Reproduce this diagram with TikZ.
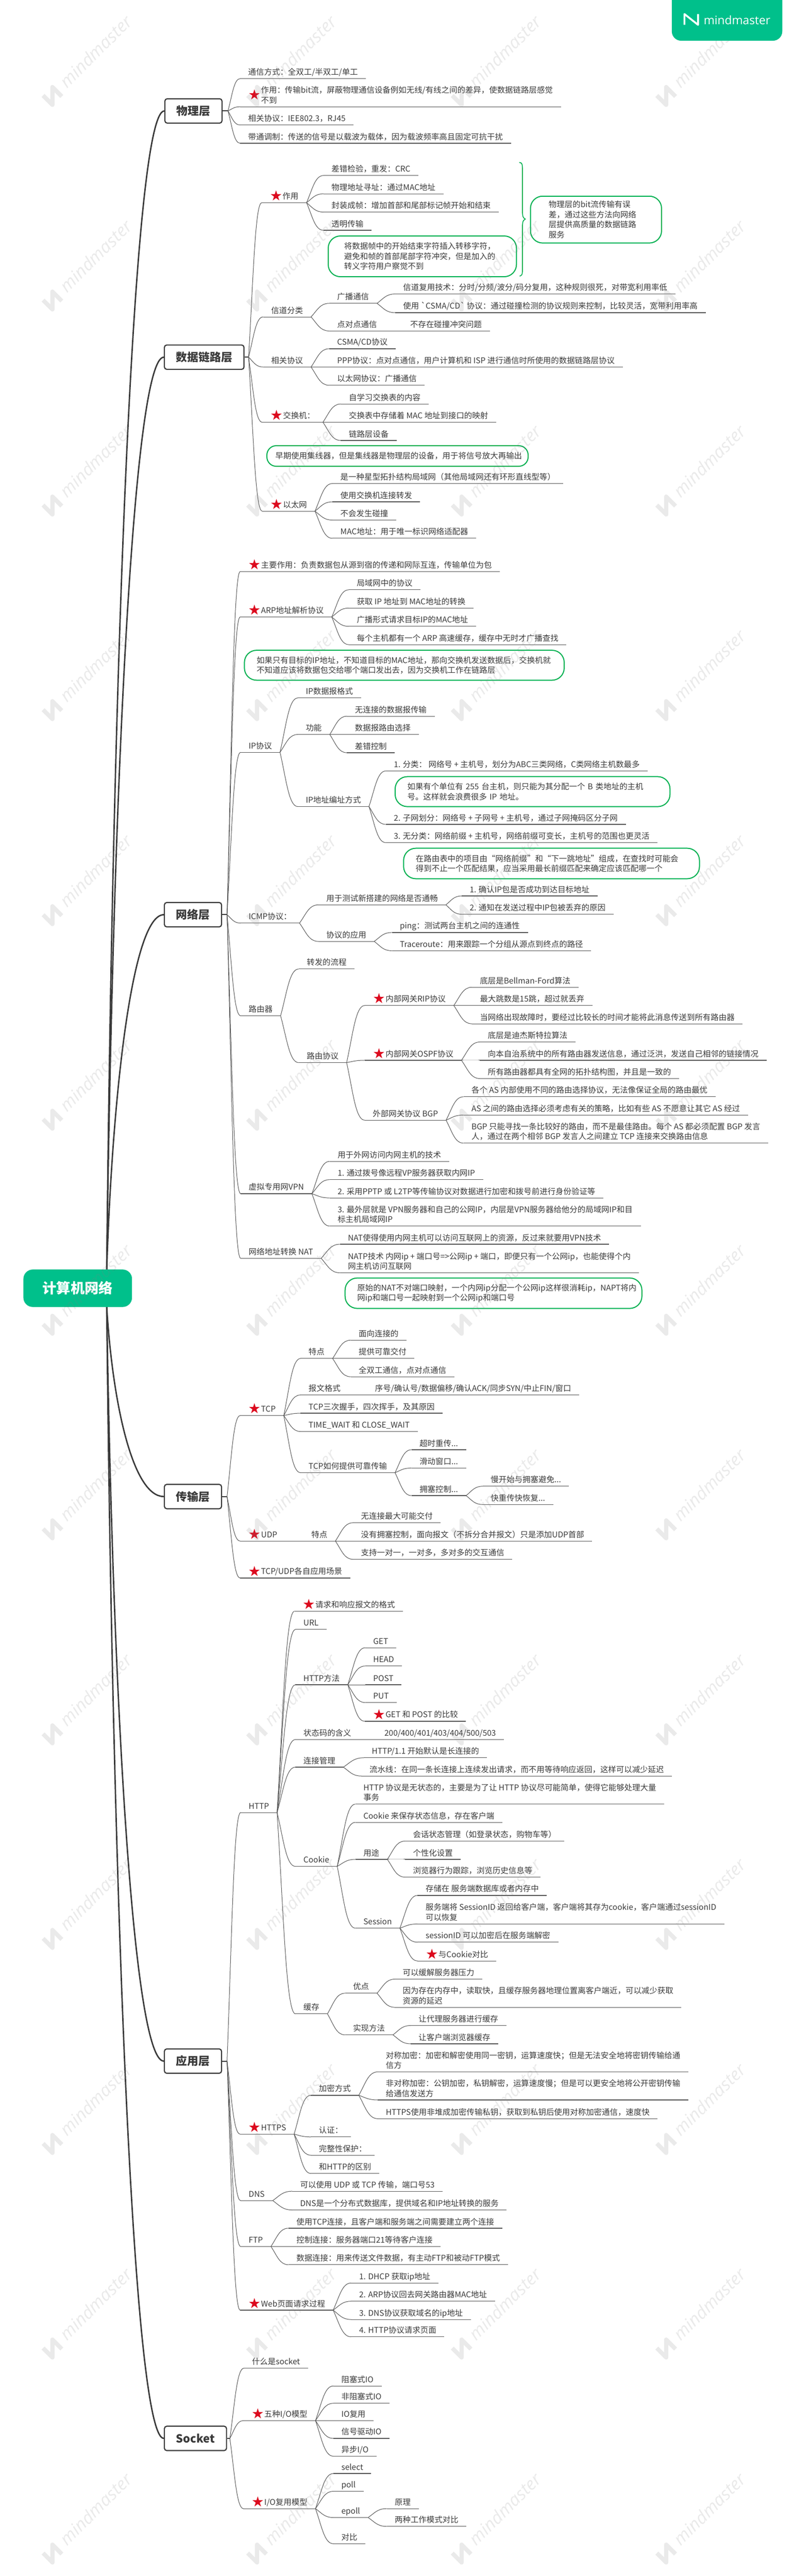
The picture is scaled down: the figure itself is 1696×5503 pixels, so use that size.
\documentclass[tikz,border=0pt]{standalone}
\usepackage{fontspec}
\setmainfont{Noto Sans CJK SC}
\newfontfamily\starfont{DejaVu Sans}
\newfontfamily\wmfont{Open Sans}
\usepackage{tikz}
\usetikzlibrary{calc}
\definecolor{brandgreen}{HTML}{00C08B}
\definecolor{notegreen}{HTML}{00B050}
\definecolor{linegray}{HTML}{555555}
\definecolor{inkgray}{HTML}{3A3A3A}
\definecolor{starred}{HTML}{DC0A1E}
\newcommand{\markstar}{\raisebox{-3.5pt}{\fontsize{30}{30}\starfont\color{starred}★}\hspace{.5pt}}
\pgfdeclarelayer{nodelayer}
\pgfdeclarelayer{edgelayer}
\pgfsetlayers{edgelayer,nodelayer,main}
\tikzset{topic/.style={anchor=south west, xshift=-17pt, inner xsep=17pt, inner ysep=1pt, align=left, text=inkgray,
font=\fontsize{17}{21.5}\selectfont, execute at begin node=\strut, execute at end node=\strut,
append after command={(\tikzlastnode.south west) edge [style=rule] (\tikzlastnode.south east)}}}
\tikzset{rule/.style={draw=linegray, line width=1.3pt}}
\tikzset{link/.style={draw=linegray, line width=1.1pt, to path={let \p1=(\tikztostart), \p2=(\tikztotarget) in
.. controls ({\x1+.35*(\x2-\x1)},{\y1+.5*(\y2-\y1)}) and ({\x1+.5*(\x2-\x1)},\y2) .. (\tikztotarget) \tikztonodes}}}
\tikzset{trunk/.style={draw=inkgray, line width=3pt, to path={let \p1=(\tikztostart), \p2=(\tikztotarget) in
.. controls ({\x1+.1*(\x2-\x1)},{\y1+.5*(\y2-\y1)}) and ({\x1+.45*(\x2-\x1)},\y2) .. (\tikztotarget) \tikztonodes}}}
\tikzset{stub/.style={draw=inkgray, line width=2.2pt}}
\tikzset{layerbox/.style={draw=inkgray, line width=2.4pt, fill=white, rounded corners=5pt, anchor=west, inner xsep=25pt,
minimum height=52pt, text=inkgray, font=\fontsize{24}{28}\selectfont\bfseries}}
\tikzset{rootbox/.style={fill=brandgreen, rounded corners=20pt, minimum width=232pt, minimum height=80pt, text=white,
font=\fontsize{30}{34}\selectfont\bfseries}}
\tikzset{note/.style={draw=notegreen, line width=2.2pt, rounded corners=26pt, anchor=north west, align=left, inner ysep=0pt,
inner xsep=26pt, text=inkgray, font=\fontsize{17}{21.5}\selectfont}}
\tikzset{bracket/.style={draw=notegreen, line width=1.8pt}}
\tikzset{wmark/.style={text=gray, opacity=.17, rotate=45, anchor=west, inner sep=0pt, font=\wmfont\itshape\fontsize{37}{37}\selectfont}}
\tikzset{wlogo/.style={draw=gray, opacity=.17, line width=9pt, line join=round}}
\begin{document}
\begin{tikzpicture}[x=1pt, y=-1pt]
	\useasboundingbox (0,0) rectangle (1696,5503);
	\begin{pgfonlayer}{nodelayer}
		\node [style=rootbox] (root) at (166,2752) {计算机网络};
		\coordinate (rootup) at (228,2712);
		\coordinate (rootdown) at (228,2792);
		% physical
		\node [style=layerbox] (phys) at (351,237) {物理层};
		\coordinate (physj) at (487,237);
		\node [style=topic] (phys1) at (530,168) {通信方式：全双工/半双工/单工};
		\node [style=topic] (phys2) at (530,228) {\markstar\begin{tabular}[c]{@{}l@{}}作用：传输bit流，屏蔽物理通信设备例如无线/有线之间的差异，使数据链路层感觉\\不到\end{tabular}};
		\node [style=topic] (phys3) at (530,267) {相关协议：IEE802.3，RJ45};
		\node [style=topic] (phys4) at (530,306) {带通调制：传送的信号是以载波为载体，因为载波频率高且固定可抗干扰};
		% data link
		\node [style=layerbox] (data) at (350,763) {数据链路层};
		\coordinate (dataj) at (531,763);
		\node [style=topic] (data1) at (576,433) {\markstar 作用};
		\node [style=topic] (data11) at (708,375) {差错检验，重发：CRC};
		\node [style=topic] (data12) at (708,414) {物理地址寻址：通过MAC地址};
		\node [style=topic] (data13) at (708,453) {封装成帧：增加首部和尾部标记帧开始和结束};
		\node [style=topic] (data14) at (708,492) {透明传输};
		\node [style=note, inner xsep=34pt, text width=334pt, minimum height=87pt] (note1) at (700,503) {将数据帧中的开始结束字符插入转移字符，\\避免和帧的首部尾部字符冲突，但是加入的\\转义字符用户察觉不到};
		\node [style=note, inner xsep=39pt, text width=202pt, minimum height=100pt] (note2) at (1132,418) {物理层的bit流传输有误\\差，通过这些方法向网络\\层提供高质量的数据链路\\服务};
		\coordinate (bracktop) at (1109,347);
		\coordinate (brackmid) at (1122,468);
		\coordinate (brackbot) at (1110,590);
		\node [style=topic] (data2) at (579,677) {信道分类};
		\node [style=topic] (data21) at (720,648) {广播通信};
		\node [style=topic] (data211) at (861,628) {信道复用技术：分时/分频/波分/码分复用，这种规则很死，对带宽利用率低};
		\node [style=topic] (data212) at (861,668) {使用 \textasciigrave CSMA/CD\textasciigrave\ 协议：通过碰撞检测的协议规则来控制，比较灵活，宽带利用率高};
		\node [style=topic] (data22) at (720,707) {点对点通信};
		\node [style=topic] (data221) at (876,707) {不存在碰撞冲突问题};
		\node [style=topic] (data3) at (579,784) {相关协议};
		\node [style=topic] (data31) at (720,745) {CSMA/CD协议};
		\node [style=topic] (data32) at (720,784) {PPP协议：点对点通信，用户计算机和 ISP 进行通信时所使用的数据链路层协议};
		\node [style=topic] (data33) at (720,823) {以太网协议：广播通信};
		\node [style=topic] (data4) at (577,902) {\markstar 交换机：};
		\node [style=topic] (data41) at (745,863) {自学习交换表的内容};
		\node [style=topic] (data42) at (745,902) {交换表中存储着 MAC 地址到接口的映射};
		\node [style=topic] (data43) at (745,941) {链路层设备};
		\node [style=note, rounded corners=20pt, inner xsep=18pt, text width=522pt, minimum height=44pt] (note3) at (569,951) {早期使用集线器，但是集线器是物理层的设备，用于将信号放大再输出};
		\node [style=topic] (data5) at (577,1092) {\markstar 以太网};
		\node [style=topic] (data51) at (727,1033) {是一种星型拓扑结构局域网（其他局域网还有环形直线型等）};
		\node [style=topic] (data52) at (727,1072) {使用交换机连接转发};
		\node [style=topic] (data53) at (727,1111) {不会发生碰撞};
		\node [style=topic] (data54) at (727,1150) {MAC地址：用于唯一标识网络适配器};
		% network
		\node [style=layerbox] (net) at (350,1954) {网络层};
		\coordinate (netj) at (485,1954);
		\node [style=topic] (net1) at (530,1221) {\markstar 主要作用：负责数据包从源到宿的传递和网际互连，传输单位为包};
		\node [style=topic] (net2) at (530,1318) {\markstar ARP地址解析协议};
		\node [style=topic] (net21) at (762,1260) {局域网中的协议};
		\node [style=topic] (net22) at (762,1299) {获取 IP 地址到 MAC地址的转换};
		\node [style=topic] (net23) at (762,1338) {广播形式请求目标IP的MAC地址};
		\node [style=topic] (net24) at (762,1377) {每个主机都有一个 ARP 高速缓存，缓存中无时才广播查找};
		\node [style=note, text width=631pt, minimum height=64pt] (note4) at (521,1388) {如果只有目标的IP地址，不知道目标的MAC地址，那向交换机发送数据后，交换机就\\不知道应该将数据包交给哪个端口发出去，因为交换机工作在链路层};
		\node [style=topic] (net3) at (531,1607) {IP协议};
		\node [style=topic] (net31) at (653,1491) {IP数据报格式};
		\node [style=topic] (net32) at (653,1569) {功能};
		\node [style=topic] (net321) at (758,1530) {无连接的数据报传输};
		\node [style=topic] (net322) at (758,1569) {数据报路由选择};
		\node [style=topic] (net323) at (758,1608) {差错控制};
		\node [style=topic] (net33) at (653,1723) {IP地址编址方式};
		\node [style=topic] (net331) at (841,1647) {1. 分类：  网络号 + 主机号，划分为ABC三类网络，C类网络主机数最多};
		\node [style=note, text width=535pt, minimum height=64pt] (note5) at (843,1658) {如果有个单位有 255 台主机，则只能为其分配一个 B 类地址的主机\\号。这样就会浪费很多 IP 地址。};
		\node [style=topic] (net332) at (841,1761) {2. 子网划分：网络号 + 子网号 + 主机号，通过子网掩码区分子网};
		\node [style=topic] (net333) at (841,1800) {3. 无分类：网络前缀 + 主机号，网络前缀可变长，主机号的范围也更灵活};
		\node [style=note, text width=580pt, minimum height=65pt] (note6) at (861,1811) {在路由表中的项目由“网络前缀”和“下一跳地址”组成，在查找时可能会\\得到不止一个匹配结果，应当采用最长前缀匹配来确定应该匹配哪一个};
		\node [style=topic] (net4) at (531,1972) {ICMP协议：};
		\node [style=topic] (net41) at (697,1933) {用于测试新搭建的网络是否通畅};
		\node [style=topic] (net411) at (1003,1914) {1. 确认IP包是否成功到达目标地址};
		\node [style=topic] (net412) at (1003,1953) {2. 通知在发送过程中IP包被丢弃的原因};
		\node [style=topic] (net42) at (697,2011) {协议的应用};
		\node [style=topic] (net421) at (854,1992) {ping：测试两台主机之间的连通性};
		\node [style=topic] (net422) at (854,2031) {Traceroute：用来跟踪一个分组从源点到终点的路径};
		\node [style=topic] (net5) at (531,2170) {路由器};
		\node [style=topic] (net51) at (655,2070) {转发的流程};
		\node [style=topic] (net52) at (655,2270) {路由协议};
		\node [style=topic] (net521) at (796,2148) {\markstar 内部网关RIP协议};
		\node [style=topic] (rip1) at (1025,2109) {底层是Bellman-Ford算法};
		\node [style=topic] (rip2) at (1025,2148) {最大跳数是15跳，超过就丢弃};
		\node [style=topic] (rip3) at (1025,2187) {当网络出现故障时，要经过比较长的时间才能将此消息传送到所有路由器};
		\node [style=topic] (net522) at (796,2265) {\markstar 内部网关OSPF协议};
		\node [style=topic] (ospf1) at (1042,2226) {底层是迪杰斯特拉算法};
		\node [style=topic] (ospf2) at (1042,2265) {向本自治系统中的所有路由器发送信息，通过泛洪，发送自己相邻的链接情况};
		\node [style=topic] (ospf3) at (1042,2304) {所有路由器都具有全网的拓扑结构图，并且是一致的};
		\node [style=topic] (net523) at (796,2393) {外部网关协议 BGP};
		\node [style=topic] (bgp1) at (1007,2343) {各个 AS 内部使用不同的路由选择协议，无法像保证全局的路由最优};
		\node [style=topic] (bgp2) at (1007,2382) {AS 之间的路由选择必须考虑有关的策略，比如有些 AS 不愿意让其它 AS 经过};
		\node [style=topic] (bgp3) at (1007,2442) {BGP 只能寻找一条比较好的路由，而不是最佳路由。每个 AS 都必须配置 BGP 发言\\人，通过在两个相邻 BGP 发言人之间建立 TCP 连接来交换路由信息};
		\node [style=topic] (net6) at (531,2550) {虚拟专用网VPN};
		\node [style=topic] (net61) at (721,2481) {用于外网访问内网主机的技术};
		\node [style=topic] (net62) at (721,2520) {1. 通过拨号像远程VP服务器获取内网IP};
		\node [style=topic] (net63) at (721,2559) {2. 采用PPTP 或 L2TP等传输协议对数据进行加密和拨号前进行身份验证等};
		\node [style=topic] (net64) at (721,2619) {3. 最外层就是 VPN服务器和自己的公网IP，内层是VPN服务器给他分的局域网IP和目\\标主机局域网IP};
		\node [style=topic] (net7) at (531,2688) {网络地址转换 NAT};
		\node [style=topic] (net71) at (743,2658) {NAT使得使用内网主机可以访问互联网上的资源，反过来就要用VPN技术};
		\node [style=topic] (net72) at (743,2719) {NATP技术 内网ip + 端口号=>公网ip + 端口，即便只有一个公网ip，也能使得个内\\网主机访问互联网};
		\node [style=note, text width=582pt, minimum height=65pt] (note7) at (736,2729) {原始的NAT不对端口映射，一个内网ip分配一个公网ip这样很消耗ip，NAPT将内\\网ip和端口号一起映射到一个公网ip和端口号};
		% transport
		\node [style=layerbox] (trans) at (350,3197) {传输层};
		\coordinate (transj) at (485,3197);
		\node [style=topic] (tcp) at (530,3024) {\markstar TCP};
		\node [style=topic] (tcp1) at (659,2902) {特点};
		\node [style=topic] (tcp11) at (766,2863) {面向连接的};
		\node [style=topic] (tcp12) at (766,2902) {提供可靠交付};
		\node [style=topic] (tcp13) at (766,2941) {全双工通信，点对点通信};
		\node [style=topic] (tcp2) at (659,2980) {报文格式};
		\node [style=topic] (tcp21) at (801,2980) {序号/确认号/数据偏移/确认ACK/同步SYN/中止FIN/窗口};
		\node [style=topic] (tcp3) at (659,3019) {TCP三次握手，四次挥手，及其原因};
		\node [style=topic] (tcp4) at (659,3058) {TIME\_WAIT 和 CLOSE\_WAIT};
		\node [style=topic] (tcp5) at (659,3146) {TCP如何提供可靠传输};
		\node [style=topic] (tcp51) at (896,3097) {超时重传...};
		\node [style=topic] (tcp52) at (896,3136) {滑动窗口...};
		\node [style=topic] (tcp53) at (896,3195) {拥塞控制...};
		\node [style=topic] (tcp531) at (1048,3175) {慢开始与拥塞避免...};
		\node [style=topic] (tcp532) at (1048,3214) {快重传快恢复...};
		\node [style=topic] (udp) at (530,3292) {\markstar UDP};
		\node [style=topic] (udp1) at (665,3292) {特点};
		\node [style=topic] (udp11) at (771,3253) {无连接最大可能交付};
		\node [style=topic] (udp12) at (771,3292) {没有拥塞控制，面向报文（不拆分合并报文）只是添加UDP首部};
		\node [style=topic] (udp13) at (771,3331) {支持一对一，一对多，多对多的交互通信};
		\node [style=topic] (scene) at (530,3371) {\markstar TCP/UDP各自应用场景};
		% application
		\node [style=layerbox] (app) at (350,4403) {应用层};
		\coordinate (appj) at (485,4403);
		\node [style=topic] (http) at (531,3872) {HTTP};
		\node [style=topic] (http1) at (646,3442) {\markstar 请求和响应报文的格式};
		\node [style=topic] (http2) at (648,3481) {URL};
		\node [style=topic] (http3) at (648,3599) {HTTP方法};
		\node [style=topic] (http31) at (797,3520) {GET};
		\node [style=topic] (http32) at (797,3559) {HEAD};
		\node [style=topic] (http33) at (797,3599) {POST};
		\node [style=topic] (http34) at (797,3637) {PUT};
		\node [style=topic] (http35) at (796,3677) {\markstar GET 和 POST 的比较};
		\node [style=topic] (http4) at (648,3716) {状态码的含义};
		\node [style=topic] (http41) at (821,3716) {200/400/401/403/404/500/503};
		\node [style=topic] (http5) at (648,3775) {连接管理};
		\node [style=topic] (http51) at (794,3755) {HTTP/1.1 开始默认是长连接的};
		\node [style=topic] (http52) at (789,3794) {流水线：在同一条长连接上连续发出请求，而不用等待响应返回，这样可以减少延迟};
		\node [style=topic] (cookie) at (648,3987) {Cookie};
		\node [style=topic] (cookie1) at (776,3854) {HTTP 协议是无状态的，主要是为了让 HTTP 协议尽可能简单，使得它能够处理大量\\事务};
		\node [style=topic] (cookie2) at (776,3893) {Cookie 来保存状态信息，存在客户端};
		\node [style=topic] (cookie3) at (776,3972) {用途};
		\node [style=topic] (cookie31) at (882,3933) {会话状态管理（如登录状态，购物车等）};
		\node [style=topic] (cookie32) at (882,3972) {个性化设置};
		\node [style=topic] (cookie33) at (882,4010) {浏览器行为跟踪，浏览历史信息等};
		\node [style=topic] (sess) at (776,4119) {Session};
		\node [style=topic] (sess1) at (909,4049) {存储在 服务端数据库或者内存中};
		\node [style=topic] (sess2) at (909,4110) {服务端将 SessionID 返回给客户端，客户端将其存为cookie，客户端通过sessionID\\可以恢复};
		\node [style=topic] (sess3) at (909,4149) {sessionID 可以加密后在服务端解密};
		\node [style=topic] (sess4) at (909,4189) {\markstar 与Cookie对比};
		\node [style=topic] (cache) at (648,4302) {缓存};
		\node [style=topic] (cache1) at (754,4258) {优点};
		\node [style=topic] (cache11) at (860,4228) {可以缓解服务器压力};
		\node [style=topic] (cache12) at (860,4288) {因为存在内存中，读取快，且缓存服务器地理位置离客户端近，可以减少获取\\资源的延迟};
		\node [style=topic] (cache2) at (754,4347) {实现方法};
		\node [style=topic] (cache21) at (894,4327) {让代理服务器进行缓存};
		\node [style=topic] (cache22) at (894,4366) {让客户端浏览器缓存};
		\node [style=topic] (https) at (530,4559) {\markstar HTTPS};
		\node [style=topic] (https1) at (681,4476) {加密方式};
		\node [style=topic] (https11) at (824,4426) {对称加密：加密和解密使用同一密钥，运算速度快；但是无法安全地将密钥传输给通\\信方};
		\node [style=topic] (https12) at (824,4486) {非对称加密：公钥加密，私钥解密，运算速度慢；但是可以更安全地将公开密钥传输\\给通信发送方};
		\node [style=topic] (https13) at (824,4526) {HTTPS使用非堆成加密传输私钥，获取到私钥后使用对称加密通信，速度快};
		\node [style=topic] (https2) at (681,4565) {认证：};
		\node [style=topic] (https3) at (681,4604) {完整性保护：};
		\node [style=topic] (https4) at (681,4643) {和HTTP的区别};
		\node [style=topic] (dns) at (531,4701) {DNS};
		\node [style=topic] (dns1) at (641,4681) {可以使用 UDP 或 TCP 传输，端口号53};
		\node [style=topic] (dns2) at (641,4721) {DNS是一个分布式数据库，提供域名和IP地址转换的服务};
		\node [style=topic] (ftp) at (531,4799) {FTP};
		\node [style=topic] (ftp1) at (633,4760) {使用TCP连接，且客户端和服务端之间需要建立两个连接};
		\node [style=topic] (ftp2) at (633,4799) {控制连接：服务器端口21等待客户连接};
		\node [style=topic] (ftp3) at (633,4838) {数据连接：用来传送文件数据，有主动FTP和被动FTP模式};
		\node [style=topic] (web) at (530,4935) {\markstar Web页面请求过程};
		\node [style=topic] (web1) at (767,4877) {1. DHCP 获取ip地址};
		\node [style=topic] (web2) at (767,4916) {2. ARP协议回去网关路由器MAC地址};
		\node [style=topic] (web3) at (767,4955) {3. DNS协议获取域名的ip地址};
		\node [style=topic] (web4) at (767,4992) {4. HTTP协议请求页面};
		% socket
		\node [style=layerbox] (sock) at (350,5209) {Socket};
		\coordinate (sockj) at (491,5209);
		\node [style=topic] (sock1) at (538,5059) {什么是socket};
		\node [style=topic] (sock2) at (537,5171) {\markstar 五种I/O模型};
		\node [style=topic] (sock21) at (729,5097) {阻塞式IO};
		\node [style=topic] (sock22) at (729,5134) {非阻塞式IO};
		\node [style=topic] (sock23) at (729,5171) {IO复用};
		\node [style=topic] (sock24) at (729,5209) {信号驱动IO};
		\node [style=topic] (sock25) at (729,5247) {异步I/O};
		\node [style=topic] (sock3) at (537,5359) {\markstar I/O复用模型};
		\node [style=topic] (sock31) at (729,5284) {select};
		\node [style=topic] (sock32) at (729,5322) {poll};
		\node [style=topic] (sock33) at (729,5378) {epoll};
		\node [style=topic] (sock331) at (843,5359) {原理};
		\node [style=topic] (sock332) at (843,5397) {两种工作模式对比};
		\node [style=topic] (sock34) at (729,5434) {对比};
	\end{pgfonlayer}
	\begin{pgfonlayer}{edgelayer}
		\draw [style=trunk] (rootup) to (phys.west);
		\draw [style=trunk] (rootup) to (data.west);
		\draw [style=trunk] (rootup) to (net.west);
		\draw [style=trunk] (rootdown) to (trans.west);
		\draw [style=trunk] (rootdown) to (app.west);
		\draw [style=trunk] (rootdown) to (sock.west);
		\draw [style=stub] (phys.east) to (physj);
		\draw [style=stub] (data.east) to (dataj);
		\draw [style=stub] (net.east) to (netj);
		\draw [style=stub] (trans.east) to (transj);
		\draw [style=stub] (app.east) to (appj);
		\draw [style=stub] (sock.east) to (sockj);
		\draw [style=link] (physj) to (phys1.south west);
		\draw [style=link] (physj) to (phys2.south west);
		\draw [style=link] (physj) to (phys3.south west);
		\draw [style=link] (physj) to (phys4.south west);
		\draw [style=link] (dataj) to (data1.south west);
		\draw [style=link] (dataj) to (data2.south west);
		\draw [style=link] (dataj) to (data3.south west);
		\draw [style=link] (dataj) to (data4.south west);
		\draw [style=link] (dataj) to (data5.south west);
		\draw [style=link] (data1.south east) to (data11.south west);
		\draw [style=link] (data1.south east) to (data12.south west);
		\draw [style=link] (data1.south east) to (data13.south west);
		\draw [style=link] (data1.south east) to (data14.south west);
		\draw [style=bracket] (bracktop) .. controls (1116,347) and (1116,352) .. (1116,365) -- (1116,450) .. controls (1116,460) and (1116,465) .. (brackmid) .. controls (1116,471) and (1116,476) .. (1116,486) -- (1116,575) .. controls (1116,585) and (1116,588) .. (brackbot);
		\draw [style=link] (data2.south east) to (data21.south west);
		\draw [style=link] (data2.south east) to (data22.south west);
		\draw [style=link] (data21.south east) to (data211.south west);
		\draw [style=link] (data21.south east) to (data212.south west);
		\draw [style=link] (data22.south east) to (data221.south west);
		\draw [style=link] (data3.south east) to (data31.south west);
		\draw [style=link] (data3.south east) to (data32.south west);
		\draw [style=link] (data3.south east) to (data33.south west);
		\draw [style=link] (data4.south east) to (data41.south west);
		\draw [style=link] (data4.south east) to (data42.south west);
		\draw [style=link] (data4.south east) to (data43.south west);
		\draw [style=link] (data5.south east) to (data51.south west);
		\draw [style=link] (data5.south east) to (data52.south west);
		\draw [style=link] (data5.south east) to (data53.south west);
		\draw [style=link] (data5.south east) to (data54.south west);
		\draw [style=link] (netj) to (net1.south west);
		\draw [style=link] (netj) to (net2.south west);
		\draw [style=link] (netj) to (net3.south west);
		\draw [style=link] (netj) to (net4.south west);
		\draw [style=link] (netj) to (net5.south west);
		\draw [style=link] (netj) to (net6.south west);
		\draw [style=link] (netj) to (net7.south west);
		\draw [style=link] (net2.south east) to (net21.south west);
		\draw [style=link] (net2.south east) to (net22.south west);
		\draw [style=link] (net2.south east) to (net23.south west);
		\draw [style=link] (net2.south east) to (net24.south west);
		\draw [style=link] (net3.south east) to (net31.south west);
		\draw [style=link] (net3.south east) to (net32.south west);
		\draw [style=link] (net3.south east) to (net33.south west);
		\draw [style=link] (net32.south east) to (net321.south west);
		\draw [style=link] (net32.south east) to (net322.south west);
		\draw [style=link] (net32.south east) to (net323.south west);
		\draw [style=link] (net33.south east) to (net331.south west);
		\draw [style=link] (net33.south east) to (net332.south west);
		\draw [style=link] (net33.south east) to (net333.south west);
		\draw [style=link] (net4.south east) to (net41.south west);
		\draw [style=link] (net4.south east) to (net42.south west);
		\draw [style=link] (net41.south east) to (net411.south west);
		\draw [style=link] (net41.south east) to (net412.south west);
		\draw [style=link] (net42.south east) to (net421.south west);
		\draw [style=link] (net42.south east) to (net422.south west);
		\draw [style=link] (net5.south east) to (net51.south west);
		\draw [style=link] (net5.south east) to (net52.south west);
		\draw [style=link] (net52.south east) to (net521.south west);
		\draw [style=link] (net52.south east) to (net522.south west);
		\draw [style=link] (net52.south east) to (net523.south west);
		\draw [style=link] (net521.south east) to (rip1.south west);
		\draw [style=link] (net521.south east) to (rip2.south west);
		\draw [style=link] (net521.south east) to (rip3.south west);
		\draw [style=link] (net522.south east) to (ospf1.south west);
		\draw [style=link] (net522.south east) to (ospf2.south west);
		\draw [style=link] (net522.south east) to (ospf3.south west);
		\draw [style=link] (net523.south east) to (bgp1.south west);
		\draw [style=link] (net523.south east) to (bgp2.south west);
		\draw [style=link] (net523.south east) to (bgp3.south west);
		\draw [style=link] (net6.south east) to (net61.south west);
		\draw [style=link] (net6.south east) to (net62.south west);
		\draw [style=link] (net6.south east) to (net63.south west);
		\draw [style=link] (net6.south east) to (net64.south west);
		\draw [style=link] (net7.south east) to (net71.south west);
		\draw [style=link] (net7.south east) to (net72.south west);
		\draw [style=link] (transj) to (tcp.south west);
		\draw [style=link] (transj) to (udp.south west);
		\draw [style=link] (transj) to (scene.south west);
		\draw [style=link] (tcp.south east) to (tcp1.south west);
		\draw [style=link] (tcp.south east) to (tcp2.south west);
		\draw [style=link] (tcp.south east) to (tcp3.south west);
		\draw [style=link] (tcp.south east) to (tcp4.south west);
		\draw [style=link] (tcp.south east) to (tcp5.south west);
		\draw [style=link] (tcp1.south east) to (tcp11.south west);
		\draw [style=link] (tcp1.south east) to (tcp12.south west);
		\draw [style=link] (tcp1.south east) to (tcp13.south west);
		\draw [style=link] (tcp2.south east) to (tcp21.south west);
		\draw [style=link] (tcp5.south east) to (tcp51.south west);
		\draw [style=link] (tcp5.south east) to (tcp52.south west);
		\draw [style=link] (tcp5.south east) to (tcp53.south west);
		\draw [style=link] (tcp53.south east) to (tcp531.south west);
		\draw [style=link] (tcp53.south east) to (tcp532.south west);
		\draw [style=link] (udp.south east) to (udp1.south west);
		\draw [style=link] (udp1.south east) to (udp11.south west);
		\draw [style=link] (udp1.south east) to (udp12.south west);
		\draw [style=link] (udp1.south east) to (udp13.south west);
		\draw [style=link] (appj) to (http.south west);
		\draw [style=link] (appj) to (https.south west);
		\draw [style=link] (appj) to (dns.south west);
		\draw [style=link] (appj) to (ftp.south west);
		\draw [style=link] (appj) to (web.south west);
		\draw [style=link] (http.south east) to (http1.south west);
		\draw [style=link] (http.south east) to (http2.south west);
		\draw [style=link] (http.south east) to (http3.south west);
		\draw [style=link] (http.south east) to (http4.south west);
		\draw [style=link] (http.south east) to (http5.south west);
		\draw [style=link] (http.south east) to (cookie.south west);
		\draw [style=link] (http.south east) to (cache.south west);
		\draw [style=link] (http3.south east) to (http31.south west);
		\draw [style=link] (http3.south east) to (http32.south west);
		\draw [style=link] (http3.south east) to (http33.south west);
		\draw [style=link] (http3.south east) to (http34.south west);
		\draw [style=link] (http3.south east) to (http35.south west);
		\draw [style=link] (http4.south east) to (http41.south west);
		\draw [style=link] (http5.south east) to (http51.south west);
		\draw [style=link] (http5.south east) to (http52.south west);
		\draw [style=link] (cookie.south east) to (cookie1.south west);
		\draw [style=link] (cookie.south east) to (cookie2.south west);
		\draw [style=link] (cookie.south east) to (cookie3.south west);
		\draw [style=link] (cookie.south east) to (sess.south west);
		\draw [style=link] (cookie3.south east) to (cookie31.south west);
		\draw [style=link] (cookie3.south east) to (cookie32.south west);
		\draw [style=link] (cookie3.south east) to (cookie33.south west);
		\draw [style=link] (sess.south east) to (sess1.south west);
		\draw [style=link] (sess.south east) to (sess2.south west);
		\draw [style=link] (sess.south east) to (sess3.south west);
		\draw [style=link] (sess.south east) to (sess4.south west);
		\draw [style=link] (cache.south east) to (cache1.south west);
		\draw [style=link] (cache.south east) to (cache2.south west);
		\draw [style=link] (cache1.south east) to (cache11.south west);
		\draw [style=link] (cache1.south east) to (cache12.south west);
		\draw [style=link] (cache2.south east) to (cache21.south west);
		\draw [style=link] (cache2.south east) to (cache22.south west);
		\draw [style=link] (https.south east) to (https1.south west);
		\draw [style=link] (https.south east) to (https2.south west);
		\draw [style=link] (https.south east) to (https3.south west);
		\draw [style=link] (https.south east) to (https4.south west);
		\draw [style=link] (https1.south east) to (https11.south west);
		\draw [style=link] (https1.south east) to (https12.south west);
		\draw [style=link] (https1.south east) to (https13.south west);
		\draw [style=link] (dns.south east) to (dns1.south west);
		\draw [style=link] (dns.south east) to (dns2.south west);
		\draw [style=link] (ftp.south east) to (ftp1.south west);
		\draw [style=link] (ftp.south east) to (ftp2.south west);
		\draw [style=link] (ftp.south east) to (ftp3.south west);
		\draw [style=link] (web.south east) to (web1.south west);
		\draw [style=link] (web.south east) to (web2.south west);
		\draw [style=link] (web.south east) to (web3.south west);
		\draw [style=link] (web.south east) to (web4.south west);
		\draw [style=link] (sockj) to (sock1.south west);
		\draw [style=link] (sockj) to (sock2.south west);
		\draw [style=link] (sockj) to (sock3.south west);
		\draw [style=link] (sock2.south east) to (sock21.south west);
		\draw [style=link] (sock2.south east) to (sock22.south west);
		\draw [style=link] (sock2.south east) to (sock23.south west);
		\draw [style=link] (sock2.south east) to (sock24.south west);
		\draw [style=link] (sock2.south east) to (sock25.south west);
		\draw [style=link] (sock3.south east) to (sock31.south west);
		\draw [style=link] (sock3.south east) to (sock32.south west);
		\draw [style=link] (sock3.south east) to (sock33.south west);
		\draw [style=link] (sock3.south east) to (sock34.south west);
		\draw [style=link] (sock33.south east) to (sock331.south west);
		\draw [style=link] (sock33.south east) to (sock332.south west);
	\end{pgfonlayer}
	% watermark and brand tab
	\foreach \wx in {112,549,986,1423} {
		\foreach \wy in {205,642,1080,1517,1955,2392,2830,3267,3705,4142,4580,5017,5455} {
			\draw [style=wlogo] ($(\wx,\wy)+(-20,-1)$) -- ($(\wx,\wy)+(0,19)$) -- ($(\wx,\wy)+(0,-19)$) -- ($(\wx,\wy)+(20,1)$);
			\node [style=wmark] (wm\wx\wy) at ($(\wx,\wy)+(22,-25)$) {mindmaster};
		}
	}
	\fill [brandgreen] (1435,0) {[rounded corners=20pt] -- (1435,87) -- (1671,87)} -- (1671,0) -- cycle;
	\draw [white, line width=4pt, line join=round] (1462,53) -- (1462,30) -- (1491,53) -- (1491,30);
	\node [anchor=west, inner sep=0pt, text=white, font=\wmfont\fontsize{25}{25}\selectfont] (brand) at (1503,43) {mindmaster};
\end{tikzpicture}
\end{document}
